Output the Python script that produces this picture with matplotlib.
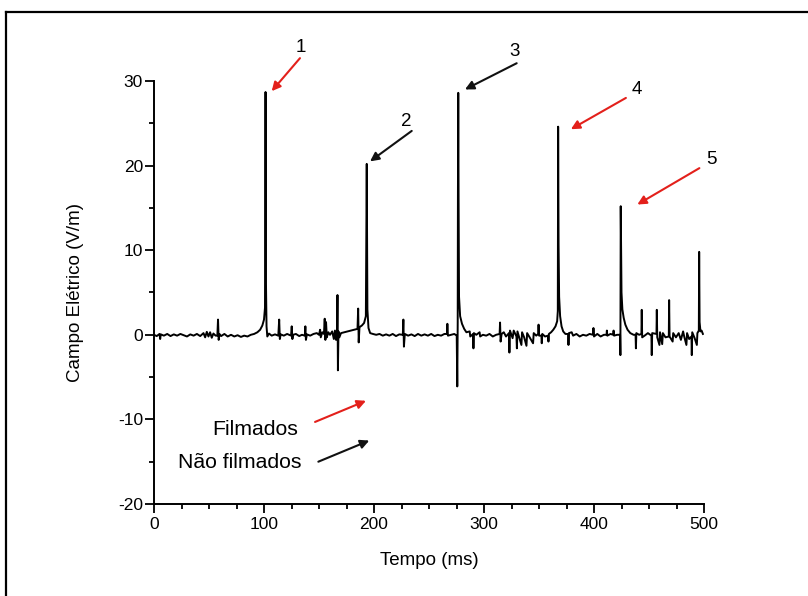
import matplotlib
matplotlib.use("Agg")
import matplotlib.pyplot as plt
from matplotlib.lines import Line2D
from matplotlib.ticker import MultipleLocator

plt.rcParams['font.family'] = ['Liberation Sans', 'DejaVu Sans']
plt.rcParams['axes.unicode_minus'] = False

# ---- trace vertices (time in ms, field in V/m) ----
tempo_ms = [
    0.0, 2.5, 5.0, 5.6, 6.2, 9, 12, 15, 18, 21, 24, 27, 30, 33, 36, 39, 42, 45, 46.5, 48,
    49.5, 51, 52.5, 54, 56, 57.6, 58.2, 58.8, 59.5, 61, 64, 67, 70, 73, 76, 79, 82, 85, 88, 91,
    94, 96.5, 98.5, 100, 100.9, 101.4, 101.8, 102.3, 103, 104.5, 107, 110, 113, 113.8, 114.4, 115.2,
    118, 121, 124.6, 125.2, 125.8, 126.5, 129, 132, 134.5, 137.1, 137.6, 138.1, 139, 142, 145, 148,
    150, 151, 151.6, 153, 154.5, 155.2, 155.8, 156.4, 157.1, 158.5, 160, 162, 163.5, 164.5, 165.5,
    166.4, 166.8, 167.2, 167.7, 168.5, 170, 173, 176, 179, 182, 185, 185.6, 186.1, 186.8, 189, 191,
    192.6, 193.4, 194, 195, 196.5, 199, 202, 205, 208, 211, 214, 217, 220, 223, 226.2, 226.7, 227.2,
    228, 231, 234, 237, 240, 243, 246, 249, 252, 255, 258, 261, 264, 266.3, 266.7, 267.2, 270, 273,
    275.2, 275.7, 276.1, 276.3, 276.6, 276.9, 277.3, 278.3, 280, 282, 284, 287, 287.5, 290.1, 290.4,
    290.8, 293, 296, 296.5, 299, 302, 305, 308, 311, 314.2, 314.6, 315.1, 316, 318, 320, 322.7, 323.1,
    323.6, 326, 327, 329.5, 329.9, 330.4, 332, 334, 334.6, 336.5, 338.6, 339.2, 341.5, 344.6, 345.2,
    347.5, 349.2, 349.6, 350.1, 352.2, 352.5, 353, 355.5, 358.3, 358.6, 359, 361, 363, 365, 366.5,
    367.1, 367.4, 367.8, 368.3, 369.2, 370.5, 372, 374, 376.5, 376.8, 377.2, 379.7, 381, 384, 387,
    390, 393, 396, 399.2, 399.5, 400, 403, 406, 409, 411.4, 411.7, 412.1, 415, 417.5, 417.8, 418.2,
    421, 423.7, 424.0, 424.3, 424.6, 425.0, 425.8, 427, 428.5, 430.5, 433, 436, 437.8, 438.1, 438.5,
    441, 443.1, 443.4, 443.8, 446, 449, 452.2, 452.5, 452.9, 456.8, 457.1, 457.5, 459.5, 460, 462,
    462.6, 465, 468.0, 468.3, 468.7, 471.5, 472, 474.5, 477, 479, 481, 482, 484, 484.6, 486.5, 488.6,
    488.9, 489.3, 491.5, 493.5, 494, 495.3, 495.6, 496, 496.8, 497.8, 499,
]
campo_vm = [
    0.0, -0.15, 0.1, -0.5, 0.05, -0.1, 0.1, -0.15, 0.05, -0.1, 0.1, -0.05, -0.2, 0.05, -0.1, 0.1, -0.15, 0.2, -0.3, 0.35,
    -0.2, 0.3, -0.35, 0.15, -0.1, -0.1, 1.8, -0.6, 0.1, -0.15, 0.1, -0.2, 0.0, -0.2, -0.05, -0.25, -0.1, -0.2, 0.0, 0.1,
    0.3, 0.6, 1.1, 1.8, 3.2, 28.7, 6.0, 1.0, -0.2, 0.15, -0.1, 0.05, -0.1, 1.8, -0.5, 0.05,
    -0.1, 0.1, -0.1, 1.0, -0.5, 0.0, 0.1, -0.15, 0.0, -0.1, 1.0, -0.6, 0.05, -0.1, 0.1, 0.2,
    0.0, 0.6, -0.3, 0.3, 0.1, 1.9, -0.6, 1.5, -0.3, 0.3, 0.0, 0.4, -0.5, 0.5, -0.6,
    0.3, 4.7, -4.2, 0.4, -0.3, 0.2, 0.3, 0.4, 0.5, 0.6, 0.7, 3.1, -0.9, 0.9, 1.1, 1.4,
    2.2, 20.2, 3.0, 0.8, 0.2, 0.1, 0.0, 0.1, -0.1, 0.05, -0.1, 0.1, -0.15, 0.05, 0.0, 1.8, -1.4,
    0.1, -0.1, 0.05, -0.15, 0.1, -0.1, 0.05, -0.1, 0.1, -0.15, 0.0, -0.1, 0.1, 0.1, 1.3, -0.1, 0.0, 0.1,
    -0.1, -6.1, 1.5, 16.5, 28.6, 16.0, 4.5, 2.2, 1.3, 0.7, 0.3, 0.4, -0.2, 0.1, -1.6,
    0.2, 0.0, 0.3, -0.2, 0.0, -0.1, 0.1, -0.2, 0.0, 0.1, 1.45, -0.8, 0.1, 0.3, -0.2, 0.2, -2.1,
    0.5, -0.4, 0.5, -0.2, -1.6, 0.4, -0.3, -1.2, 0.3, -0.3, -1.3, 0.2, -0.3, -1.0, 0.2,
    -0.1, 0.1, 1.2, -0.1, -0.1, -1.0, 0.1, -0.2, -0.1, -0.8, 0.1, 0.3, 0.6, 1.0, 1.6,
    2.8, 24.6, 10.6, 4.5, 2.2, 1.0, 0.4, 0.1, 0.1, -1.2, 0.2, 0.3, -0.1, 0.1, -0.2,
    0.0, -0.1, 0.1, 0.0, 0.8, -0.2, 0.1, -0.2, 0.0, 0.0, 0.5, -0.1, 0.1, 0.0, 0.5, -0.1,
    0.0, 0.0, -2.4, 15.2, 11.2, 5.0, 3.0, 2.0, 1.2, 0.6, 0.2, 0.0, 0.0, -1.6, 0.2,
    0.0, 0.1, 2.95, -0.3, -0.1, 0.2, -0.1, -2.4, 0.2, 0.1, 2.95, -0.3, -1.2, 0.3, -1.1,
    0.2, -0.3, -0.2, 4.1, -0.2, -0.8, 0.2, -0.3, 0.2, -0.6, 0.4, -0.2, -1.2, 0.2, -0.5, -0.2,
    -2.4, 0.3, -0.4, -1.2, 0.2, 0.5, 9.8, 1.5, 0.4, 0.5, 0.1,
]

# ---- numbered discharges: label, label position, arrow tail, arrow head, colour ----
rotulos = ['1', '2', '3', '4', '5']
rotulo_t = [133.6, 229.7, 328.0, 439.0, 507.0]
rotulo_e = [34.0, 25.2, 33.5, 29.0, 20.7]
cauda_t = [132.7, 234.3, 329.7, 429.0, 495.8]
cauda_e = [32.7, 24.1, 32.1, 28.0, 19.7]
ponta_t = [107.0, 196.4, 282.7, 379.0, 439.4]
ponta_e = [28.8, 20.5, 29.0, 24.3, 15.4]
filmado = [True, False, False, True, True]

legenda_textos = ['Filmados', 'Não filmados']
legenda_t = [91.8, 78.2]
legenda_e = [-11.2, -15.1]
legenda_cauda_t = [146.4, 149.4]
legenda_cauda_e = [-10.3, -15.0]
legenda_ponta_t = [192.7, 195.7]
legenda_ponta_e = [-7.8, -12.5]
legenda_filmado = [True, False]

VERMELHO = '#e3201b'
PRETO = '#111111'

fig = plt.figure(figsize=(8.08, 5.96), dpi=100)
ax = fig.add_axes([154 / 808, 1 - 504 / 596, 550 / 808, 423 / 596])

ax.plot(tempo_ms, campo_vm, color='black', lw=1.4, solid_joinstyle='round')

ax.set_xlim(0, 500)
ax.set_ylim(-20, 30)
ax.xaxis.set_major_locator(MultipleLocator(100))
ax.xaxis.set_minor_locator(MultipleLocator(25))
ax.yaxis.set_major_locator(MultipleLocator(10))
ax.yaxis.set_minor_locator(MultipleLocator(5))
ax.spines['top'].set_visible(False)
ax.spines['right'].set_visible(False)
for s in ('left', 'bottom'):
    ax.spines[s].set_linewidth(1.4)
ax.tick_params(which='major', direction='out', length=6.5, width=1.3, labelsize=12.5, color='black')
ax.tick_params(which='minor', direction='out', length=3.5, width=1.3)
ax.tick_params(axis='x', which='major', pad=3)
ax.tick_params(axis='y', which='major', pad=1.5)

ax.set_xlabel('Tempo (ms)', fontsize=13.5, labelpad=14)
ax.set_ylabel('Campo Elétrico (V/m)', fontsize=13.5, labelpad=24)

for i in range(len(rotulos)):
    cor = VERMELHO if filmado[i] else PRETO
    ax.annotate('', xy=(ponta_t[i], ponta_e[i]), xytext=(cauda_t[i], cauda_e[i]),
                arrowprops=dict(arrowstyle='-|>', color=cor, lw=1.5, mutation_scale=13,
                                shrinkA=0, shrinkB=0),
                annotation_clip=False)
    ax.text(rotulo_t[i], rotulo_e[i], rotulos[i], fontsize=13.5, ha='center', va='center',
            clip_on=False)

for i in range(len(legenda_textos)):
    cor = VERMELHO if legenda_filmado[i] else PRETO
    ax.text(legenda_t[i], legenda_e[i], legenda_textos[i], fontsize=15.3, ha='center', va='center')
    ax.annotate('', xy=(legenda_ponta_t[i], legenda_ponta_e[i]),
                xytext=(legenda_cauda_t[i], legenda_cauda_e[i]),
                arrowprops=dict(arrowstyle='-|>', color=cor, lw=1.5, mutation_scale=13,
                                shrinkA=0, shrinkB=0))

# outer frame (only left and top edges are inside the picture)
fig.add_artist(Line2D([6 / 808, 6 / 808], [0, 1 - 12 / 596], transform=fig.transFigure,
                      color='black', lw=1.6))
fig.add_artist(Line2D([6 / 808, 1], [1 - 12 / 596, 1 - 12 / 596], transform=fig.transFigure,
                      color='black', lw=1.6))

fig.savefig('out.png', dpi=100)
